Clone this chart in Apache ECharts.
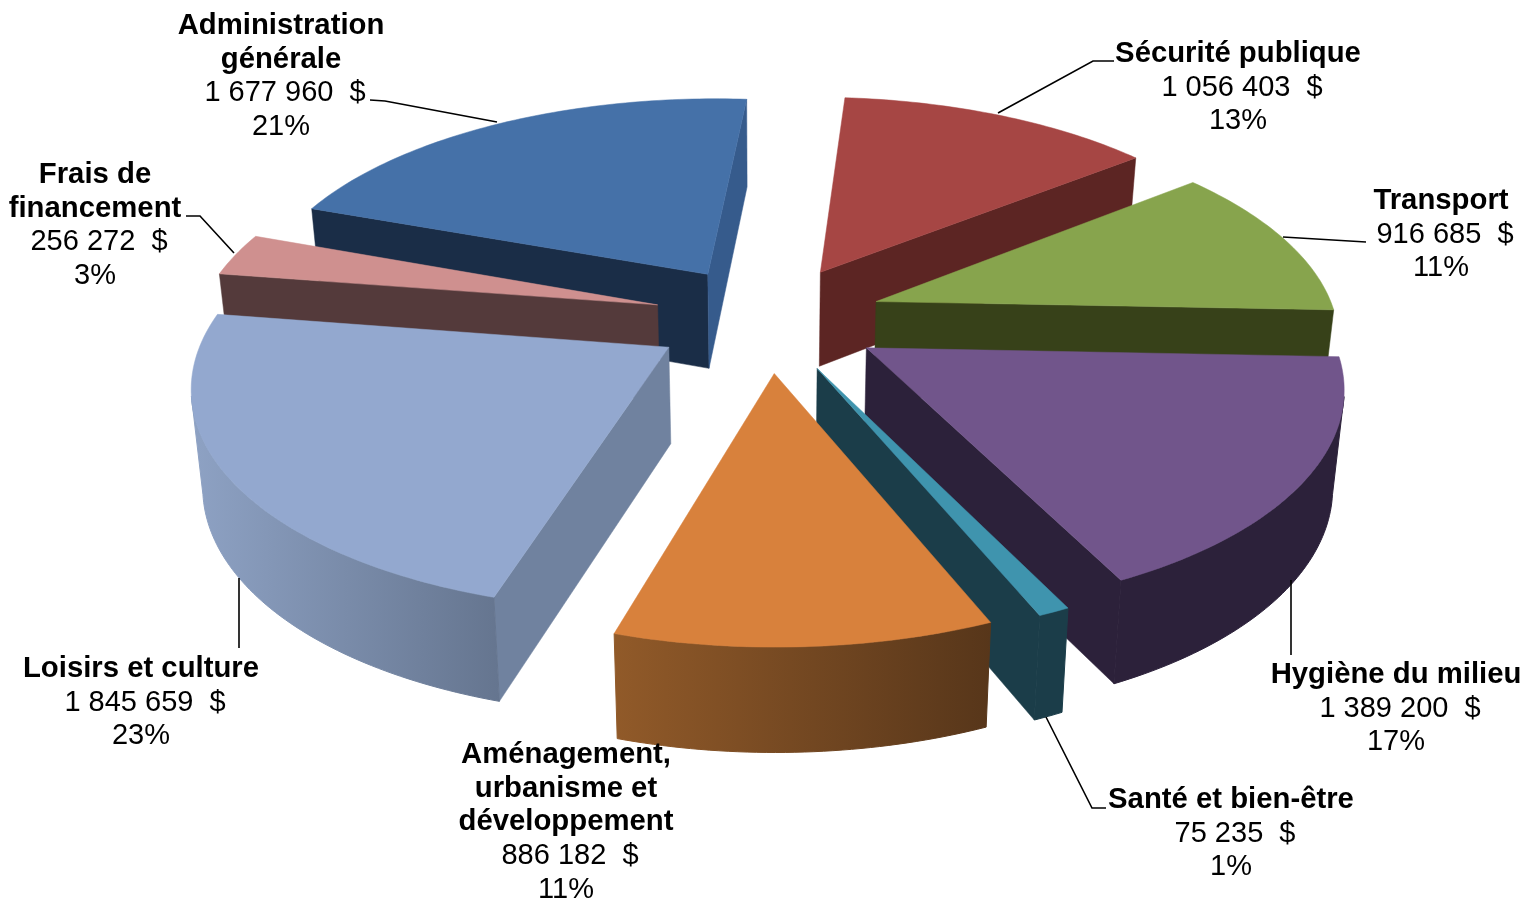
<!DOCTYPE html>
<html><head><meta charset="utf-8">
<style>html,body{margin:0;padding:0;background:#fff}#c{width:1538px;height:901px}</style>
<script src="https://cdn.jsdelivr.net/npm/echarts@6/dist/echarts.min.js"></script>
</head><body><div id="c"></div>
<script>
const categories=['Sécurité publique','Transport','Hygiène du milieu','Santé et bien-être','Aménagement,\nurbanisme et\ndéveloppement','Loisirs et culture','Frais de\nfinancement','Administration\ngénérale'];
const values=[1056403,916685,1389200,75235,886182,1845659,256272,1677960];
const topColors=['#a64644','#87a44d','#71558b','#3f94ae','#d8813c','#93a8cf','#cf908f','#4571a8'];
const startWallColors=['#5c2523','#374119','#2c213a','#1b3d49','#5c3a1a','#70829f','#543a3b','#1a2d47'];
const endWallColors=['#5c2523','#374119','#2c213a','#1b3d49','#5c3a1a','#70829f','#543a3b','#365b8c'];
const outerLeft=['#5c2523','#374119','#2c213a','#1b3d49','#915a29','#8ea2c4','#543a3b','#1a2d47'];
const outerRight=['#5c2523','#374119','#2c213a','#1b3d49','#57361a','#65758f','#543a3b','#1a2d47'];
const labelCenters=[1238,1441,1396,1231,566,141,95,281];
const labelTops=[37,184,658,783,738,652,158,9];
const leaders=[
 [[1114,61],[1093,61],[998,113]],
 [[1283,237],[1366,242]],
 [[1291,580],[1291,655]],
 [[1046,717],[1092,808],[1106,808]],
 null,
 [[239,578],[239,648]],
 [[186,216],[200,216],[234,253]],
 [[370,100],[385,101],[497,122]]
];
const cx=768,cy=318,scaleX=460,scaleY=214,persp=0.15,explode=0.25,radius=1,firstAngle=4.6;
const wallH=95.5,wallPersp=0.075,bottomShrink=0.98,frontLimit=-0.2;
const total=values.reduce((a,b)=>a+b,0);
const rad=d=>d*Math.PI/180;
const ranges=[];let acc=firstAngle;
values.forEach(v=>{const s=v/total*360;ranges.push([acc,acc+s]);acc+=s;});
function proj(x,y){const d=1+persp*y;return [cx+x*scaleX/d,cy-y*scaleY/d];}
function projB(x,y){const t=proj(x,y);return [cx+(t[0]-cx)*bottomShrink,t[1]+wallH/(1+wallPersp*y)];}
function model(i){
 const [a,b]=ranges[i],m=rad((a+b)/2);
 const ox=explode*Math.sin(m),oy=explode*Math.cos(m);
 const arc=[],cosines=[];const n=Math.max(2,Math.ceil(b-a));
 for(let k=0;k<=n;k++){const t=rad(a+(b-a)*k/n);arc.push([ox+radius*Math.sin(t),oy+radius*Math.cos(t)]);cosines.push(Math.cos(t));}
 return {o:[ox,oy],arc,cosines};
}
function wallVisible(A,B,I){
 if(Math.abs(B[0]-A[0])<1e-6)return false;
 const yl=A[1]+(I[0]-A[0])*(B[1]-A[1])/(B[0]-A[0]);
 return I[1]<yl;
}
function renderItem(params,api){
 const i=api.value(0),{o,arc,cosines}=model(i);
 const top=[proj(o[0],o[1])].concat(arc.map(p=>proj(p[0],p[1])));
 const mid=arc[Math.floor(arc.length/2)];
 const inner=proj((o[0]+mid[0])/2,(o[1]+mid[1])/2);
 const kids=[];
 const quad=(p,fill)=>kids.push({type:'polygon',shape:{points:p},style:{fill,stroke:fill,lineWidth:0.5}});
 const P0=o,P1=arc[0],P2=arc[arc.length-1];
 const wall=(Q,fill)=>{
  const A=proj(P0[0],P0[1]),B=proj(Q[0],Q[1]);
  if(wallVisible(A,B,inner))quad([A,B,projB(Q[0],Q[1]),projB(P0[0],P0[1])],fill);
 };
 wall(P1,startWallColors[i]);
 wall(P2,endWallColors[i]);
 const front=arc.filter((p,k)=>cosines[k]<frontLimit);
 if(front.length>1){
  const up=front.map(p=>proj(p[0],p[1])),dn=front.map(p=>projB(p[0],p[1])).reverse();
  const g=()=>new echarts.graphic.LinearGradient(0,0,1,0,[{offset:0,color:outerLeft[i]},{offset:1,color:outerRight[i]}]);
  kids.push({type:'polygon',shape:{points:up.concat(dn)},style:{fill:g(),stroke:g(),lineWidth:1}});
 }
 kids.push({type:'polygon',shape:{points:top},style:{fill:topColors[i],stroke:topColors[i],lineWidth:0.5}});
 return {type:'group',children:kids};
}
const order=values.map((v,i)=>i).sort((a,b)=>Math.cos(rad((ranges[b][0]+ranges[b][1])/2))-Math.cos(rad((ranges[a][0]+ranges[a][1])/2)));
const fmt=v=>'\u00a0'+String(v).replace(/\B(?=(\d{3})+(?!\d))/g,' ')+'  $';
const graphics=[];
categories.forEach((c,i)=>{
 if(leaders[i])graphics.push({type:'polyline',z:50,shape:{points:leaders[i]},style:{stroke:'#000',lineWidth:1.6,fill:null}});
 const txt=c.split('\n').map(s=>`{b|${s}}`).join('\n')+`\n{r|${fmt(values[i])}}\n{r|${Math.round(values[i]/total*100)}%}`;
 graphics.push({type:'text',z:60,x:labelCenters[i],y:labelTops[i],style:{text:txt,align:'center',verticalAlign:'top',
  rich:{b:{font:'bold 29.3px "Liberation Sans"',lineHeight:33.7,fill:'#000',align:'center'},r:{font:'29px "Liberation Sans"',lineHeight:33.7,fill:'#000',align:'center'}}}});
});
const chart=echarts.init(document.getElementById('c'));
chart.setOption({animation:false,backgroundColor:'#fff',
 series:[{type:'custom',coordinateSystem:'none',renderItem,data:order.map(i=>[i,values[i]]),clip:false,silent:true}],
 graphic:graphics});
</script></body></html>
